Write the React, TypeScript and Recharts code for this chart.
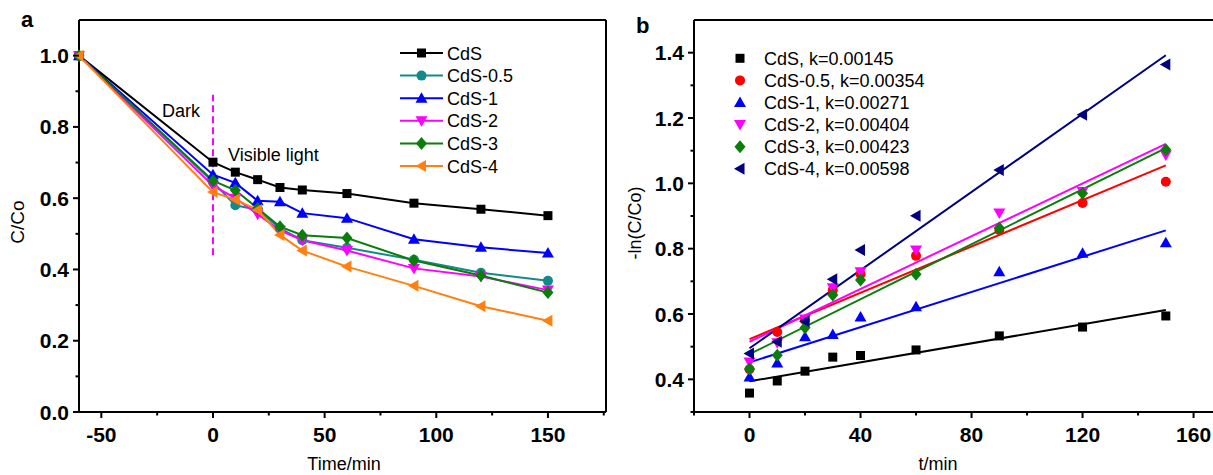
import React from 'react';
import { LineChart, Line, XAxis, YAxis, ReferenceLine } from 'recharts';

const FONT = '"Liberation Sans", Arial, Helvetica, sans-serif';

// panel a: C/Co vs time (dark adsorption from -60 min, light on at 0)
const timeA = [-60, 0, 10, 20, 30, 40, 60, 90, 120, 150];
const cdsA = [1.0, 0.701, 0.673, 0.652, 0.63, 0.623, 0.613, 0.586, 0.569, 0.551];
const cds05A = [1.0, 0.645, 0.58, 0.567, 0.515, 0.482, 0.461, 0.427, 0.391, 0.368];
const cds1A = [1.0, 0.666, 0.643, 0.593, 0.59, 0.558, 0.544, 0.485, 0.462, 0.446];
const cds2A = [1.0, 0.635, 0.6, 0.555, 0.51, 0.482, 0.453, 0.403, 0.38, 0.342];
const cds3A = [1.0, 0.649, 0.622, 0.572, 0.52, 0.496, 0.488, 0.425, 0.383, 0.335];
const cds4A = [1.0, 0.617, 0.596, 0.567, 0.497, 0.453, 0.408, 0.354, 0.297, 0.256];

// panel b: -ln(C/Co) vs time with linear fits
const timeB = [0, 10, 20, 30, 40, 60, 90, 120, 150];
const cdsB = [0.358, 0.395, 0.425, 0.468, 0.473, 0.49, 0.533, 0.56, 0.594];
const cds05B = [0.431, 0.545, 0.581, 0.673, 0.722, 0.778, 0.857, 0.94, 1.005];
const cds1B = [0.407, 0.45, 0.53, 0.537, 0.591, 0.622, 0.729, 0.786, 0.818];
const cds2B = [0.453, 0.512, 0.585, 0.68, 0.729, 0.796, 0.909, 0.975, 1.087];
const cds3B = [0.432, 0.474, 0.558, 0.658, 0.704, 0.722, 0.863, 0.97, 1.103];
const cds4B = [0.479, 0.515, 0.578, 0.706, 0.796, 0.901, 1.041, 1.21, 1.364];

const fitTimes = [0, 150];
const fitStart = [0.394, 0.523, 0.452, 0.515, 0.477, 0.495];
const fitEnd = [0.612, 1.055, 0.856, 1.121, 1.108, 1.392];

const samples = ['CdS', 'CdS-0.5', 'CdS-1', 'CdS-2', 'CdS-3', 'CdS-4'];
const kLabels = ['0.00145', '0.00354', '0.00271', '0.00404', '0.00423', '0.00598'];

const shapes = ['square', 'circle', 'up', 'down', 'diamond', 'left'];
const colorsA = ['#000000', '#138a8a', '#0000ff', '#ff00ff', '#0a7d0a', '#ff8010'];
const colorsB = ['#000000', '#ff0000', '#0000ff', '#ff00ff', '#0a7d0a', '#000080'];

const xTicksA = [-50, -25, 0, 25, 50, 75, 100, 125, 150, 175];
const xMajorA = [-50, 0, 50, 100, 150];
const yTicksA = [0, 0.1, 0.2, 0.3, 0.4, 0.5, 0.6, 0.7, 0.8, 0.9, 1.0];
const yMajorA = [0, 0.2, 0.4, 0.6, 0.8, 1.0];

const xTicksB = [-20, 0, 20, 40, 60, 80, 100, 120, 140, 160];
const xMajorB = [0, 40, 80, 120, 160];
const yTicksB = [0.3, 0.4, 0.5, 0.6, 0.7, 0.8, 0.9, 1.0, 1.1, 1.2, 1.3, 1.4];
const yMajorB = [0.4, 0.6, 0.8, 1.0, 1.2, 1.4];

const seriesA = [cdsA, cds05A, cds1A, cds2A, cds3A, cds4A];
const seriesB = [cdsB, cds05B, cds1B, cds2B, cds3B, cds4B];

const rowsA = timeA.map((t, i) => {
  const row: Record<string, number> = { t };
  samples.forEach((s, j) => (row[s] = seriesA[j][i]));
  return row;
});
const rowsB = timeB.map((t, i) => {
  const row: Record<string, number> = { t };
  samples.forEach((s, j) => (row[s] = seriesB[j][i]));
  return row;
});
const fitRows = samples.map((_, j) => [
  { t: fitTimes[0], v: fitStart[j] },
  { t: fitTimes[1], v: fitEnd[j] },
]);

function Marker({ cx, cy, shape, color }: { cx: number; cy: number; shape: string; color: string }) {
  if (cx == null || cy == null) return null;
  switch (shape) {
    case 'square':
      return <rect x={cx - 4.5} y={cy - 4.5} width={9} height={9} fill={color} />;
    case 'circle':
      return <circle cx={cx} cy={cy} r={5} fill={color} />;
    case 'up':
      return <polygon points={`${cx},${cy - 6} ${cx - 6},${cy + 4.5} ${cx + 6},${cy + 4.5}`} fill={color} />;
    case 'down':
      return <polygon points={`${cx},${cy + 6} ${cx - 6},${cy - 4.5} ${cx + 6},${cy - 4.5}`} fill={color} />;
    case 'diamond':
      return <polygon points={`${cx},${cy - 6.5} ${cx + 5.5},${cy} ${cx},${cy + 6.5} ${cx - 5.5},${cy}`} fill={color} />;
    default:
      return <polygon points={`${cx - 6},${cy} ${cx + 4.5},${cy - 6} ${cx + 4.5},${cy + 6}`} fill={color} />;
  }
}

const dotFor = (shape: string, color: string) => (p: any) =>
  <Marker key={`d-${p.index}`} cx={p.cx} cy={p.cy} shape={shape} color={color} />;

const tickText = { fontFamily: FONT, fontWeight: 'bold' as const, fontSize: 21, fill: '#000' };

const makeXTick = (majors: number[], fmt: (v: number) => string) => (p: any) => {
  const v = p.payload.value;
  const major = majors.some((m) => Math.abs(m - v) < 1e-9);
  return (
    <g>
      <line x1={p.x} x2={p.x} y1={p.y} y2={p.y + (major ? 6 : 3.5)} stroke="#000" strokeWidth={2} />
      {major && (
        <text x={p.x} y={p.y + 29.5} textAnchor="middle" {...tickText}>
          {fmt(v)}
        </text>
      )}
    </g>
  );
};

const makeYTick = (majors: number[]) => (p: any) => {
  const v = p.payload.value;
  const major = majors.some((m) => Math.abs(m - v) < 1e-9);
  return (
    <g>
      <line x1={p.x - (major ? 6 : 3.5)} x2={p.x} y1={p.y} y2={p.y} stroke="#000" strokeWidth={2} />
      {major && (
        <text x={p.x - 10} y={p.y + 7.5} textAnchor="end" {...tickText}>
          {v.toFixed(1)}
        </text>
      )}
    </g>
  );
};

const axisLine = { stroke: '#000', strokeWidth: 2 };
const label = { fontFamily: FONT, fontSize: 18, fill: '#000' };

export default function App() {
  return (
    <div style={{ position: 'absolute', left: 0, top: 0, width: 1213, height: 475, background: '#fff', fontFamily: FONT }}>
      <div style={{ position: 'absolute', left: 0, top: 0 }}>
        <LineChart width={620} height={475} data={rowsA} margin={{ top: 20, right: 14, bottom: 0, left: 0 }}>
          <XAxis
            dataKey="t"
            type="number"
            domain={[-60, 176]}
            ticks={xTicksA}
            interval={0}
            height={63}
            axisLine={axisLine}
            tickLine={false}
            tickSize={0}
            tickMargin={0}
            tick={makeXTick(xMajorA, (v) => String(v))}
          />
          <YAxis
            type="number"
            domain={[0, 1.1]}
            ticks={yTicksA}
            interval={0}
            width={79}
            axisLine={axisLine}
            tickLine={false}
            tickSize={0}
            tickMargin={0}
            tick={makeYTick(yMajorA)}
          />
          <ReferenceLine y={1.1} stroke="#000" strokeWidth={2} />
          <ReferenceLine x={176} stroke="#000" strokeWidth={2} />
          <ReferenceLine
            segment={[{ x: 0, y: 0.44 }, { x: 0, y: 0.89 }]}
            stroke="#ff00ff"
            strokeWidth={2}
            strokeDasharray="7 4"
          />
          {samples.map((s, j) => (
            <Line
              key={s}
              dataKey={s}
              stroke={colorsA[j]}
              strokeWidth={2}
              dot={dotFor(shapes[j], colorsA[j])}
              activeDot={false}
              isAnimationActive={false}
            />
          ))}
        </LineChart>
      </div>

      <div style={{ position: 'absolute', left: 613, top: 0 }}>
        <LineChart width={600} height={475} data={rowsB} margin={{ top: 20, right: 0, bottom: 0, left: 0 }}>
          <XAxis
            dataKey="t"
            type="number"
            domain={[-20, 167]}
            ticks={xTicksB}
            interval={0}
            height={63}
            axisLine={axisLine}
            tickLine={false}
            tickSize={0}
            tickMargin={0}
            tick={makeXTick(xMajorB, (v) => String(v))}
          />
          <YAxis
            type="number"
            domain={[0.3, 1.5]}
            ticks={yTicksB}
            interval={0}
            width={81}
            axisLine={axisLine}
            tickLine={false}
            tickSize={0}
            tickMargin={0}
            tick={makeYTick(yMajorB)}
          />
          <ReferenceLine y={1.5} stroke="#000" strokeWidth={2} />
          {samples.map((s, j) => (
            <Line
              key={`p-${s}`}
              dataKey={s}
              stroke="none"
              dot={dotFor(shapes[j], colorsB[j])}
              activeDot={false}
              isAnimationActive={false}
            />
          ))}
          {samples.map((s, j) => (
            <Line
              key={`f-${s}`}
              data={fitRows[j]}
              dataKey="v"
              stroke={colorsB[j]}
              strokeWidth={2}
              dot={false}
              activeDot={false}
              isAnimationActive={false}
            />
          ))}
        </LineChart>
      </div>

      <svg width={1213} height={475} style={{ position: 'absolute', left: 0, top: 0, pointerEvents: 'none' }}>
        <text x={21} y={27} fontFamily={FONT} fontWeight="bold" fontSize={22}>a</text>
        <text x={636} y={33} fontFamily={FONT} fontWeight="bold" fontSize={22}>b</text>

        <text x={162} y={116.5} {...label}>Dark</text>
        <text x={228} y={160.5} {...label}>Visible light</text>

        <text x={24} y={222} textAnchor="middle" transform="rotate(-90 24 222)" {...label} fontSize={19}>C/Co</text>
        <text x={641} y={223} textAnchor="middle" transform="rotate(-90 641 223)" {...label}>-ln(C/Co)</text>
        <text x={344} y={470} textAnchor="middle" {...label}>Time/min</text>
        <text x={938} y={470} textAnchor="middle" {...label}>t/min</text>

        {samples.map((s, j) => {
          const cy = 53 + j * 22.6;
          return (
            <g key={`la-${s}`}>
              <line x1={400} x2={443} y1={cy} y2={cy} stroke={colorsA[j]} strokeWidth={2} />
              <Marker cx={421.5} cy={cy} shape={shapes[j]} color={colorsA[j]} />
              <text x={447} y={cy + 6.5} {...label}>{s}</text>
            </g>
          );
        })}

        {samples.map((s, j) => {
          const cy = 58.3 + j * 22.1;
          return (
            <g key={`lb-${s}`}>
              <Marker cx={740} cy={cy} shape={shapes[j]} color={colorsB[j]} />
              <text x={764} y={cy + 6.5} {...label}>{`${s}, k=${kLabels[j]}`}</text>
            </g>
          );
        })}
      </svg>
    </div>
  );
}
